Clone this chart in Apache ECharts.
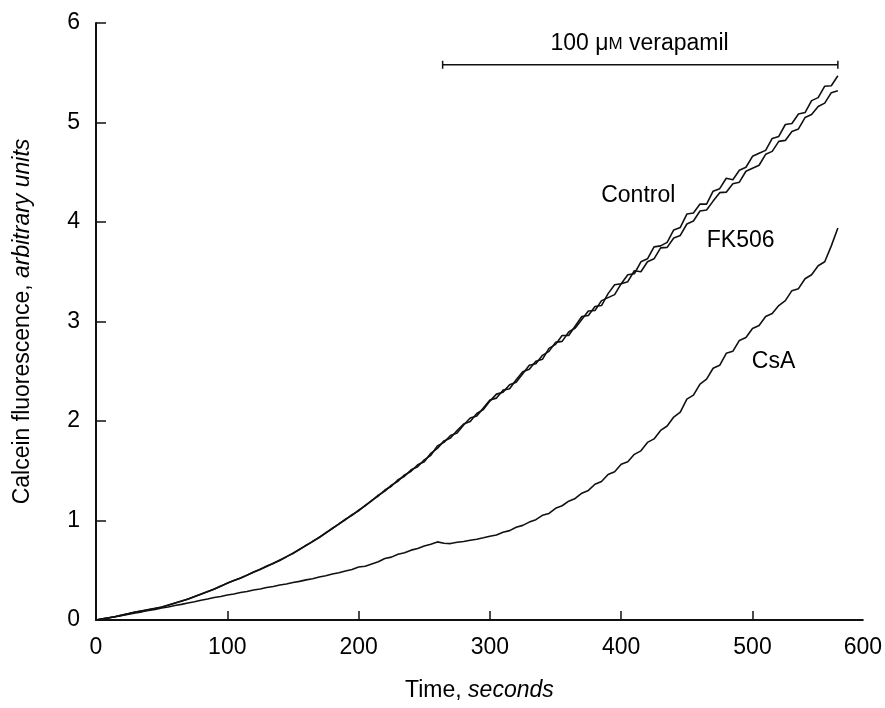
<!DOCTYPE html>
<html>
<head>
<meta charset="utf-8">
<script src="https://cdn.jsdelivr.net/npm/echarts@6/dist/echarts.min.js"></script>
<style>
html,body{margin:0;padding:0;background:#fff;}
#chart{width:885px;height:708px;}
</style>
</head>
<body>
<div id="chart"></div>
<script>
// time axis, seconds (5 s steps)
const time = [0,5,10,15,20,25,30,35,40,45,50,55,60,65,70,75,80,85,90,95,100,105,110,115,120,125,130,135,140,145,150,155,160,165,170,175,180,185,190,195,200,205,210,215,220,225,230,235,240,245,250,255,260,265,270,275,280,285,290,295,300,305,310,315,320,325,330,335,340,345,350,355,360,365,370,375,380,385,390,395,400,405,410,415,420,425,430,435,440,445,450,455,460,465,470,475,480,485,490,495,500,505,510,515,520,525,530,535,540,545,550,555,560,565];

const control = [0,0.012,0.022,0.036,0.049,0.066,0.079,0.092,0.103,0.116,0.131,0.149,0.171,0.188,0.212,0.233,0.262,0.284,0.312,0.338,0.371,0.396,0.423,0.449,0.482,0.508,0.543,0.568,0.603,0.634,0.672,0.708,0.752,0.788,0.832,0.873,0.922,0.963,1.013,1.052,1.104,1.147,1.203,1.246,1.306,1.344,1.41,1.445,1.51,1.54,
  1.61,1.655,1.75,1.785,1.855,1.88,1.96,2.03,2.05,2.13,2.21,2.23,2.31,2.325,2.415,2.495,2.52,2.60,2.62,2.73,2.77,2.86,2.86,2.955,3.05,3.06,3.15,3.16,3.28,3.37,3.38,3.47,3.48,3.60,3.63,3.75,3.76,3.795,3.92,3.945,4.08,4.09,4.18,4.18,4.31,4.335,4.44,4.425,4.52,4.55,4.66,4.69,4.72,4.84,4.86,4.98,4.99,5.085,5.10,5.22,5.25,5.365,5.37,5.47];

const fk506 = [0,0.011,0.023,0.035,0.051,0.064,0.081,0.091,0.104,0.117,0.129,0.151,0.169,0.191,0.209,0.236,0.259,0.286,0.309,0.341,0.368,0.397,0.419,0.451,0.479,0.511,0.538,0.571,0.598,0.637,0.668,0.711,0.748,0.791,0.828,0.877,0.918,0.967,1.008,1.058,1.097,1.152,1.198,1.254,1.295,1.356,1.395,1.458,1.495,1.56,
  1.59,1.675,1.725,1.80,1.83,1.905,1.97,1.995,2.075,2.115,2.20,2.27,2.29,2.365,2.39,2.475,2.56,2.575,2.66,2.70,2.79,2.80,2.895,2.935,3.02,3.105,3.11,3.21,3.24,3.27,3.38,3.40,3.51,3.50,3.60,3.63,3.74,3.745,3.84,3.865,3.98,4.01,4.11,4.12,4.21,4.295,4.30,4.385,4.40,4.51,4.54,4.57,4.68,4.71,4.81,4.82,4.91,4.935,5.05,5.08,5.16,5.195,5.30,5.32];

const csa = [0,0.01,0.022,0.033,0.046,0.057,0.071,0.082,0.096,0.107,0.121,0.131,0.146,0.157,0.171,0.184,0.199,0.211,0.226,0.237,0.251,0.262,0.276,0.287,0.301,0.312,0.326,0.337,0.352,0.362,0.377,0.388,0.403,0.415,0.432,0.444,0.462,0.474,0.493,0.508,0.532,0.541,0.563,0.585,0.618,0.632,0.661,0.676,0.702,0.718,0.743,0.762,0.785,0.772,0.768,0.781,0.789,0.802,0.812,0.826,0.842,0.855,0.882,0.898,0.932,0.951,0.984,1.008,1.052,1.071,1.123,1.148,1.194,1.222,1.275,1.302,1.364,1.392,1.462,1.49,1.565,1.59,1.665,1.70,1.785,1.82,1.905,1.95,2.04,2.09,2.22,2.26,2.37,2.42,2.53,2.56,2.68,2.70,2.81,2.84,2.93,2.96,3.05,3.08,3.16,3.21,3.31,3.33,3.43,3.47,3.56,3.60,3.76,3.94];

// axis ticks
const yTicks = [0,1,2,3,4,5,6];
const xTickValues = [0,100,200,300,400,500];
const xLabelValues = [0,100,200,300,400,500,584];
const xLabelTexts = ['0','100','200','300','400','500','600'];

// verapamil application period (s) and level
const verapamilStart = 264;
const verapamilEnd = 565;
const verapamilLevel = 5.58;
const verapamilText = '100 μ{s|M} verapamil';

// curve annotations [t, value, text]
const annotations = [
  [413, 4.26, 'Control'],
  [491, 3.81, 'FK506'],
  [516, 2.60, 'CsA'],
  [414, 5.79, verapamilText]
];

const zip = (xs, ys) => xs.map((x, i) => [x, ys[i]]);
const FONT = 'Liberation Sans, Arial, Helvetica, sans-serif';
const TXT = '#000';
const FS = 23;

const lineStyle = { color: '#111', width: 1.6 };

const chart = echarts.init(document.getElementById('chart'), null, { renderer: 'canvas' });

const capH = 0.04;
const barData = [
  [verapamilStart, verapamilLevel - capH],
  [verapamilStart, verapamilLevel + capH],
  [verapamilStart, verapamilLevel],
  [verapamilEnd, verapamilLevel],
  [verapamilEnd, verapamilLevel + capH],
  [verapamilEnd, verapamilLevel - capH]
];

chart.setOption({
  backgroundColor: '#fff',
  animation: false,
  grid: { left: 96, right: 20, top: 23, bottom: 88 },
  xAxis: {
    type: 'value',
    min: 0,
    max: 584,
    name: 'Time, {i|seconds}',
    nameLocation: 'middle',
    nameGap: 59,
    nameTextStyle: {
      fontFamily: FONT, fontSize: FS, color: TXT,
      rich: { i: { fontFamily: FONT, fontSize: FS, color: TXT, fontStyle: 'italic' } }
    },
    splitLine: { show: false },
    axisLine: { lineStyle: { color: '#111', width: 2 } },
    axisTick: { inside: true, length: 9, customValues: xTickValues, lineStyle: { color: '#111', width: 1.5 } },
    axisLabel: {
      customValues: xLabelValues,
      formatter: v => { const i = xLabelValues.indexOf(v); return i >= 0 ? xLabelTexts[i] : ''; },
      margin: 16, fontFamily: FONT, fontSize: FS, color: TXT
    }
  },
  yAxis: {
    type: 'value',
    min: 0,
    max: 6,
    interval: 1,
    name: 'Calcein fluorescence, {i|arbitrary units}',
    nameLocation: 'middle',
    nameGap: 62,
    nameTextStyle: {
      fontFamily: FONT, fontSize: FS, color: TXT,
      rich: { i: { fontFamily: FONT, fontSize: FS, color: TXT, fontStyle: 'italic' } }
    },
    splitLine: { show: false },
    axisLine: { show: true, lineStyle: { color: '#111', width: 2 } },
    axisTick: { show: true, inside: true, length: 10, customValues: yTicks, lineStyle: { color: '#111', width: 1.5 } },
    axisLabel: { margin: 16, fontFamily: FONT, fontSize: FS, color: TXT }
  },
  series: [
    { name: 'Control', type: 'line', data: zip(time, control), showSymbol: false, symbol: 'none', lineStyle, z: 3 },
    { name: 'FK506', type: 'line', data: zip(time, fk506), showSymbol: false, symbol: 'none', lineStyle, z: 3 },
    { name: 'CsA', type: 'line', data: zip(time, csa), showSymbol: false, symbol: 'none', lineStyle, z: 3 },
    { name: 'verapamil', type: 'line', data: barData, showSymbol: false, symbol: 'none', lineStyle: { color: '#111', width: 1.5 } },
    {
      name: 'labels', type: 'scatter', symbolSize: 0, silent: true,
      itemStyle: { color: 'rgba(0,0,0,0)', opacity: 1 },
      data: annotations.map(a => ({ value: [a[0], a[1]], name: a[2] })),
      label: {
        show: true, position: [0, 0], align: 'center', verticalAlign: 'middle',
        formatter: p => p.name, opacity: 1,
        fontFamily: FONT, fontSize: FS, color: TXT,
        rich: { s: { fontFamily: FONT, fontSize: 17, color: TXT } }
      }
    }
  ]
});
</script>
</body>
</html>
